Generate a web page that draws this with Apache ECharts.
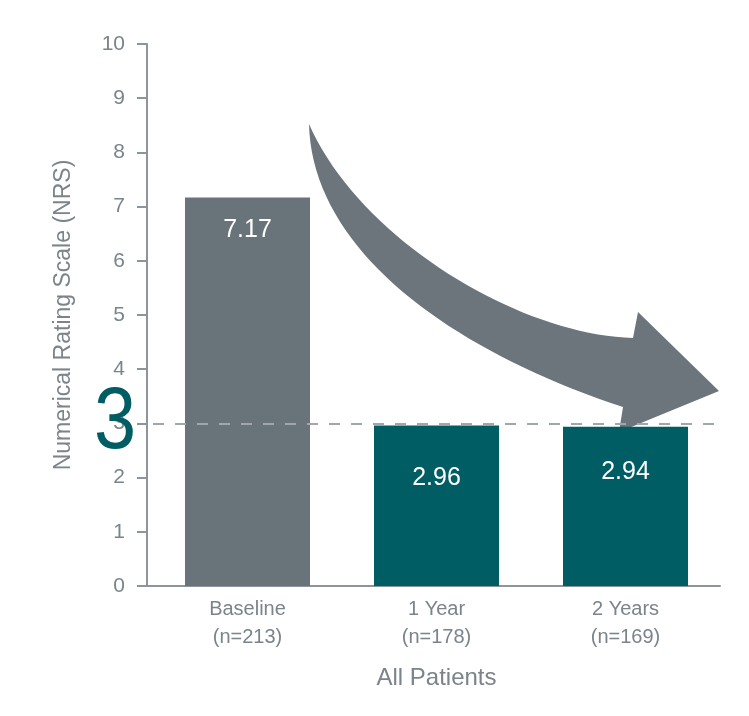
<!DOCTYPE html>
<html>
<head>
<meta charset="utf-8">
<script src="https://cdn.jsdelivr.net/npm/echarts@6/dist/echarts.min.js"></script>
<style>
  html, body { margin: 0; padding: 0; background: #ffffff; }
  #chart { width: 749px; height: 716px; }
</style>
</head>
<body>
<div id="chart"></div>
<script>
// Mean NRS pain score at each visit
const categories = ['Baseline\n(n=213)', '1 Year\n(n=178)', '2 Years\n(n=169)'];
const nrsMeans = [7.17, 2.96, 2.94];
const barColors = ['#69747a', '#005d63', '#005d63'];
const labelDistances = [20, 40, 33];
const yMin = 0;
const yMax = 10;
const yInterval = 1;
const thresholdValue = 3;

const FONT = "'Liberation Sans', Arial, sans-serif";
const TEXT_GREY = '#7a848a';
const AXIS_GREY = '#8c959b';

const gridLeft = 153, gridRight = 29, gridTop = 44, gridBottom = 130;
const H = 716;

// Sample a cubic Bezier into polygon points
function cubic(p0, p1, p2, p3, n) {
  const pts = [];
  for (let i = 0; i <= n; i++) {
    const t = i / n, u = 1 - t;
    const a = u * u * u, b = 3 * u * u * t, c = 3 * u * t * t, d = t * t * t;
    pts.push([a * p0[0] + b * p1[0] + c * p2[0] + d * p3[0],
              a * p0[1] + b * p1[1] + c * p2[1] + d * p3[1]]);
  }
  return pts;
}

// Curved decreasing arrow outline
const arrowPoints = []
  .concat(cubic([309, 124], [312, 250], [450, 350], [623, 407], 40))
  .concat([[619, 432], [719, 391], [638, 312]])
  .concat(cubic([633, 338], [520, 335], [360, 240], [309, 124], 40));

const chart = echarts.init(document.getElementById('chart'), null, { renderer: 'canvas' });

chart.setOption({
  animation: false,
  backgroundColor: '#ffffff',
  textStyle: { fontFamily: FONT },
  grid: { left: gridLeft, right: gridRight, top: gridTop, bottom: gridBottom, containLabel: false },
  xAxis: {
    type: 'category',
    data: categories,
    axisLine: { lineStyle: { color: AXIS_GREY, width: 2 } },
    axisTick: { show: false },
    axisLabel: {
      color: TEXT_GREY, fontSize: 20, lineHeight: 28, margin: 9, fontFamily: FONT,
      interval: 0
    },
    name: 'All Patients',
    nameLocation: 'middle',
    nameGap: 80,
    nameTextStyle: { color: TEXT_GREY, fontSize: 24, fontFamily: FONT }
  },
  yAxis: {
    type: 'value',
    min: yMin,
    max: yMax,
    interval: yInterval,
    offset: 6,
    splitLine: { show: false },
    axisLine: { show: true, lineStyle: { color: AXIS_GREY, width: 2 } },
    axisTick: { show: true, inside: false, length: 10, lineStyle: { color: AXIS_GREY, width: 2 } },
    axisLabel: { color: TEXT_GREY, fontSize: 21, margin: 22, fontFamily: FONT },
    name: 'Numerical Rating Scale (NRS)',
    nameLocation: 'middle',
    nameGap: 72,
    nameTextStyle: { color: TEXT_GREY, fontSize: 23, fontFamily: FONT }
  },
  series: [
    {
      // dashed reference line at NRS 3, drawn beneath the bars
      type: 'line',
      data: [],
      z: 1,
      markLine: {
        silent: true,
        symbol: ['none', 'none'],
        label: { show: false },
        lineStyle: { type: [11, 11], color: '#a0a6aa', width: 2 },
        data: [{ yAxis: thresholdValue }]
      }
    },
    {
      type: 'bar',
      z: 2,
      barWidth: 125,
      data: nrsMeans.map((v, i) => ({
        value: v,
        itemStyle: { color: barColors[i] },
        label: { distance: labelDistances[i] }
      })),
      label: {
        show: true,
        position: 'insideTop',
        color: '#ffffff',
        fontSize: 25,
        fontFamily: FONT,
        formatter: p => p.value.toFixed(2)
      }
    }
  ],
  graphic: [
    {
      type: 'polygon',
      z: 0,
      shape: { points: arrowPoints },
      style: { fill: '#6b757b' }
    },
    {
      // join the y-axis foot to the category baseline
      type: 'line',
      z: 3,
      shape: { x1: gridLeft - 7, y1: H - gridBottom, x2: gridLeft + 1, y2: H - gridBottom },
      style: { stroke: AXIS_GREY, lineWidth: 2 }
    },
    {
      type: 'text',
      z: 5,
      x: 115,
      y: 424,
      scaleX: 0.87,
      style: {
        text: String(thresholdValue),
        fill: '#005d63',
        font: "87px 'Liberation Sans', Arial, sans-serif",
        align: 'center',
        verticalAlign: 'middle'
      }
    }
  ]
});
</script>
</body>
</html>
